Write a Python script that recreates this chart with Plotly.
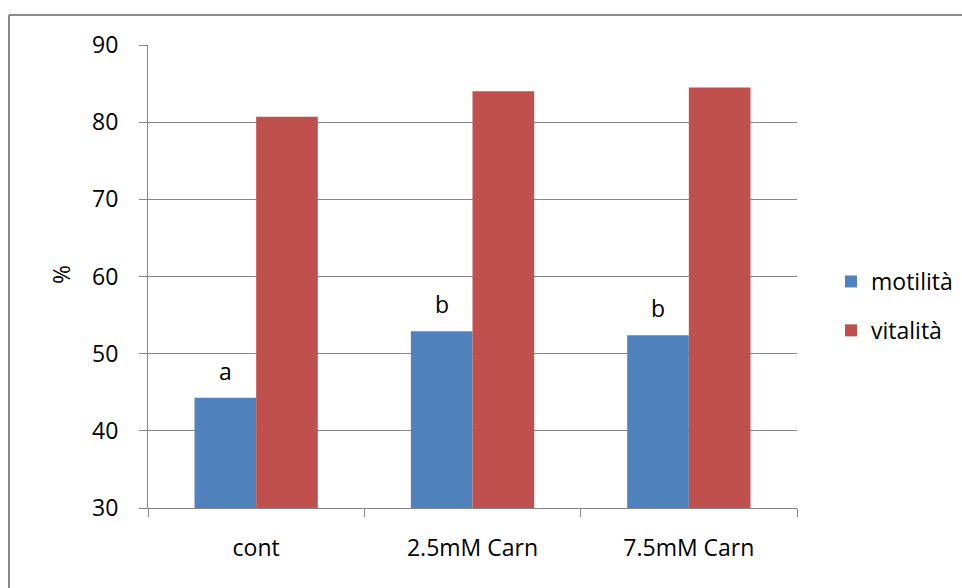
import plotly.graph_objects as go

categories = ["cont", "2.5mM Carn", "7.5mM Carn"]
motilita = [44.3, 52.9, 52.4]
vitalita = [80.7, 84.0, 84.5]
letters = ["a", "b", "b"]
series_names = ["motilità", "vitalità"]

W, H = 962, 588
ML, MR, MT, MB = 148, 165, 45, 80
PW, PH = W - ML - MR, H - MT - MB
BARGAP = 0.43

FONT = "Open Sans"
FS = 23
GRID = "#878787"

fig = go.Figure()
fig.add_trace(go.Bar(x=categories, y=motilita, name=series_names[0],
                     marker=dict(color="#4F81BD", line=dict(width=0)),
                     legendgroup="m"))
fig.add_trace(go.Bar(x=categories, y=vitalita, name=series_names[1],
                     marker=dict(color="#C0504D", line=dict(width=0)),
                     legendgroup="v"))

# significance letters above blue bars
for i, (lab, v) in enumerate(zip(letters, motilita)):
    fig.add_annotation(x=i - (1 - BARGAP) / 4, y=v, xref="x", yref="y",
                       text=lab, showarrow=False, yanchor="bottom", yshift=9,
                       font=dict(family=FONT, size=FS, color="#000000"))

def px2paper_x(px):
    return (px - ML) / PW

def py2paper_y(py):
    return (H - MB - py) / PH

# chart-area border (left and top edges visible)
fig.add_shape(type="line", xref="paper", yref="paper",
              x0=px2paper_x(9), x1=px2paper_x(9), y0=py2paper_y(15), y1=py2paper_y(600),
              line=dict(color="#888888", width=2))
fig.add_shape(type="line", xref="paper", yref="paper",
              x0=px2paper_x(9), x1=px2paper_x(980), y0=py2paper_y(15), y1=py2paper_y(15),
              line=dict(color="#888888", width=2))

fig.update_layout(
    width=W, height=H,
    margin=dict(l=ML, r=MR, t=MT, b=MB, pad=0),
    paper_bgcolor="white", plot_bgcolor="white",
    barmode="group", bargap=BARGAP, bargroupgap=0,
    font=dict(family=FONT, size=FS, color="#000000"),
    showlegend=True,
    legend=dict(xref="container", yref="container",
                x=831 / W, y=1 - 260 / H, xanchor="left", yanchor="top",
                font=dict(family=FONT, size=FS, color="#000000"),
                tracegroupgap=16, bgcolor="rgba(0,0,0,0)"),
    xaxis=dict(type="category", showline=True, linecolor=GRID, linewidth=1,
               ticks="outside", ticklen=8, tickcolor=GRID, tickson="boundaries",
               showgrid=False, ticklabelstandoff=19,
               tickfont=dict(family=FONT, size=FS, color="#000000")),
    yaxis=dict(range=[30, 90], dtick=10, tick0=30, showline=True, linecolor=GRID,
               linewidth=1, ticks="outside", ticklen=8, tickcolor=GRID,
               showgrid=True, gridcolor=GRID, gridwidth=1, zeroline=False,
               ticklabelstandoff=16,
               tickfont=dict(family=FONT, size=FS, color="#000000")),
)
fig.add_annotation(xref="paper", yref="paper", x=px2paper_x(61), y=py2paper_y(275),
                   text="%", textangle=-90, showarrow=False,
                   xanchor="center", yanchor="middle",
                   font=dict(family=FONT, size=FS, color="#000000"))

fig.write_html("out.html")
